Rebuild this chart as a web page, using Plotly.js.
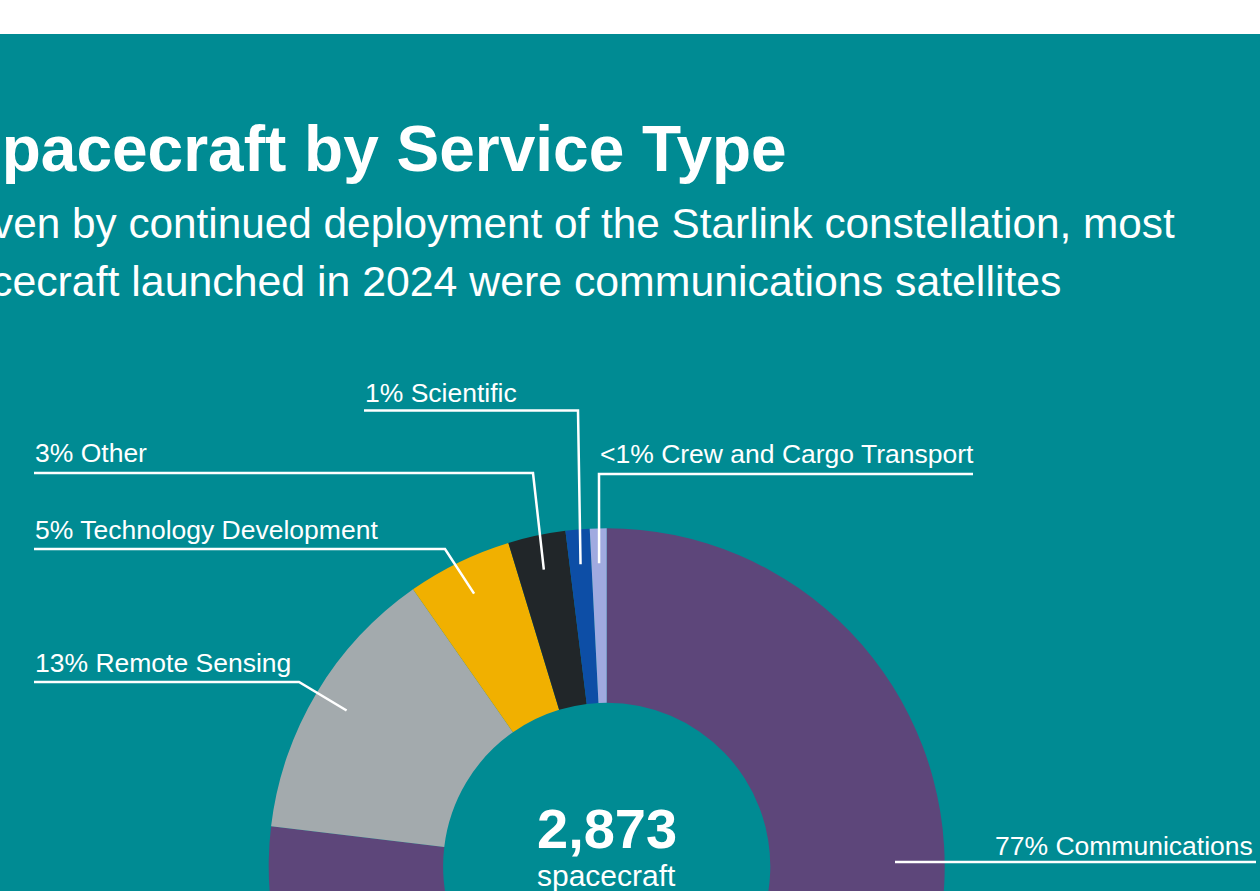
<!DOCTYPE html>
<html>
<head>
<meta charset="utf-8">
<script src="https://cdn.plot.ly/plotly-3.0.1.min.js"></script>
<style>
  html, body { margin: 0; padding: 0; background: #ffffff; }
  #frame { position: relative; width: 1260px; height: 891px; overflow: hidden; background: #ffffff; }
  #chart { position: absolute; left: 0; top: 0; width: 1260px; height: 1260px; }
</style>
</head>
<body>
<div id="frame"><div id="chart"></div></div>
<script>
// ---- data ----
const categories = ['Communications', 'Remote Sensing', 'Technology Development', 'Other', 'Scientific', 'Crew and Cargo Transport'];
const spacecraftCounts = [2209, 385, 144, 79, 33, 23];
const shareLabels = ['77%', '13%', '5%', '3%', '1%', '<1%'];
const centerCaption = 'spacecraft';
const titleText = 'Spacecraft by Service Type';
const subtitleLines = [
  'Driven by continued deployment of the Starlink constellation, most',
  'spacecraft launched in 2024 were communications satellites'
];

// ---- styling ----
const sliceColors = ['#5D467A', '#A3AAAD', '#F1B000', '#212629', '#0D4EA6', '#A0AAE0'];
const BG = '#008B93';
const FONT = 'Liberation Sans, Arial, Helvetica, sans-serif';
const W = 1260, H = 1260;
const px = x => x / W;           // pixel -> paper x
const py = y => 1 - y / H;       // pixel (from top) -> paper y

// pie geometry (pixels)
const CX = 606.7, CY = 866.3, R = 338, HOLE = 0.484;

// label layout: underline y, underline start/end x, text x and anchor, text offset above line
const labelLayout = [
  { lineY: 862,   xFar: 1256, xNear: 895, textX: 1255, anchor: 'right', toSlice: false, dy: 16 },
  { lineY: 682,   xFar: 34,   xNear: 299, textX: 33,   anchor: 'left',  toSlice: true,  dy: 19 },
  { lineY: 549,   xFar: 34,   xNear: 445, textX: 33,   anchor: 'left',  toSlice: true,  dy: 19 },
  { lineY: 473,   xFar: 34,   xNear: 533, textX: 33,   anchor: 'left',  toSlice: true,  dy: 20 },
  { lineY: 410.5, xFar: 364,  xNear: 578, textX: 363,  anchor: 'left',  toSlice: true,  dy: 18 },
  { lineY: 474,   xFar: 973,  xNear: 599, textX: 598,  anchor: 'left',  toSlice: true,  dy: 20 }
];

const total = spacecraftCounts.reduce((a, b) => a + b, 0);

// leader endpoints at mid-angle of each slice (clockwise from 12 o'clock)
let cum = 0;
const midAngles = spacecraftCounts.map(v => { const m = (cum + v / 2) / total * 2 * Math.PI; cum += v; return m; });

const shapes = [
  { type: 'rect', xref: 'paper', yref: 'paper', x0: 0, x1: 1, y0: py(34), y1: 1,
    fillcolor: '#ffffff', line: { width: 0 }, layer: 'above' }
];
const annotations = [];

categories.forEach((cat, i) => {
  const L = labelLayout[i];
  let path = `M ${px(L.xFar)},${py(L.lineY)} L ${px(L.xNear)},${py(L.lineY)}`;
  if (L.toSlice) {
    const rr = 0.897 * R;
    const ex = CX + rr * Math.sin(midAngles[i]);
    const ey = CY - rr * Math.cos(midAngles[i]);
    path += ` L ${px(ex)},${py(ey)}`;
  }
  shapes.push({ type: 'path', xref: 'paper', yref: 'paper', path: path,
    line: { color: '#ffffff', width: 2.5 } });
  annotations.push({
    xref: 'paper', yref: 'paper', x: px(L.textX), y: py(L.lineY - L.dy),
    xanchor: L.anchor, yanchor: 'middle', showarrow: false,
    text: shareLabels[i] + ' ' + cat,
    font: { family: FONT, size: 26.5, color: '#ffffff' }
  });
});

// title & subtitle
annotations.push({
  xref: 'paper', yref: 'paper', x: px(789), y: py(148.6), xanchor: 'right', yanchor: 'middle',
  showarrow: false, text: '<b>' + titleText + '</b>',
  font: { family: FONT, size: 64, color: '#ffffff' }
});
annotations.push({
  xref: 'paper', yref: 'paper', x: px(1177), y: py(223.5), xanchor: 'right', yanchor: 'middle',
  showarrow: false, text: subtitleLines[0],
  font: { family: FONT, size: 42.3, color: '#ffffff' }
});
annotations.push({
  xref: 'paper', yref: 'paper', x: px(1064), y: py(280.5), xanchor: 'right', yanchor: 'middle',
  showarrow: false, text: subtitleLines[1],
  font: { family: FONT, size: 42.8, color: '#ffffff' }
});

// centre total
annotations.push({
  xref: 'paper', yref: 'paper', x: px(CX), y: py(828), xanchor: 'center', yanchor: 'middle',
  showarrow: false, text: '<b>' + total.toLocaleString('en-US') + '</b>',
  font: { family: FONT, size: 56, color: '#ffffff' }
});
annotations.push({
  xref: 'paper', yref: 'paper', x: px(CX), y: py(875.5), xanchor: 'center', yanchor: 'middle',
  showarrow: false, text: centerCaption,
  font: { family: FONT, size: 30, color: '#ffffff' }
});

const trace = {
  type: 'pie',
  labels: categories,
  values: spacecraftCounts,
  hole: HOLE,
  sort: false,
  direction: 'clockwise',
  rotation: 0,
  textinfo: 'none',
  hoverinfo: 'skip',
  marker: { colors: sliceColors, line: { width: 0 } },
  domain: { x: [px(CX - R), px(CX + R)], y: [py(CY + R), py(CY - R)] },
  showlegend: false
};

const layout = {
  width: W, height: H,
  margin: { l: 0, r: 0, t: 0, b: 0, pad: 0 },
  paper_bgcolor: BG, plot_bgcolor: BG,
  showlegend: false,
  font: { family: FONT, color: '#ffffff' },
  shapes: shapes,
  annotations: annotations
};

Plotly.newPlot('chart', [trace], layout, { displayModeBar: false, staticPlot: true });
</script>
</body>
</html>
